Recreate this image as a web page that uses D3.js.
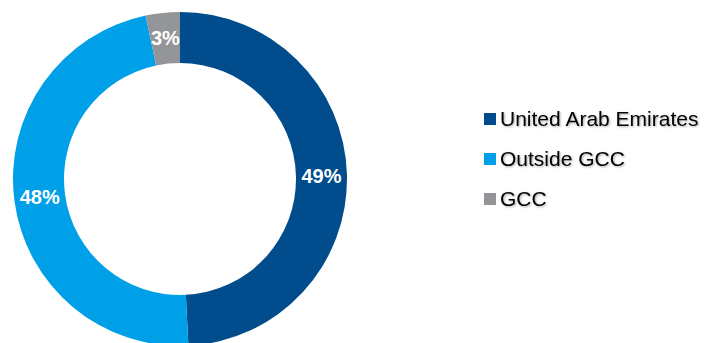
<!DOCTYPE html>
<html>
<head>
<meta charset="utf-8">
<script src="https://cdn.jsdelivr.net/npm/d3@7"></script>
<style>
html,body{margin:0;padding:0;background:#fff;}
svg{display:block;}
</style>
</head>
<body>
<svg id="chart" width="705" height="343"></svg>
<script>
const categories = ["United Arab Emirates", "Outside GCC", "GCC"];
const values = [49.2, 47.5, 3.3];
const labels = ["49%", "48%", "3%"];
const colors = ["#004C8C", "#00A0E8", "#939598"];

const svg = d3.select("#chart");
const defs = svg.append("defs");
const f = defs.append("filter").attr("id","shadow").attr("x","-10%").attr("y","-20%").attr("width","130%").attr("height","150%");
f.append("feDropShadow").attr("dx",1).attr("dy",1).attr("stdDeviation",0.8).attr("flood-color","#000").attr("flood-opacity",0.35);

const cx = 180, cy = 179, outerR = 167, innerR = 116;
const data = categories.map((c,i)=>({cat:c, value:values[i], label:labels[i], color:colors[i]}));

const pie = d3.pie().sort(null).value(d=>d.value);
const arc = d3.arc().innerRadius(innerR).outerRadius(outerR);
const arcs = pie(data);

const g = svg.append("g").attr("transform",`translate(${cx},${cy})`);
g.selectAll("path").data(arcs).join("path")
  .attr("d", arc)
  .attr("fill", d=>d.data.color);

g.selectAll("text").data(arcs).join("text")
  .attr("transform", d=>`translate(${arc.centroid(d)})`)
  .attr("text-anchor","middle")
  .attr("dy","0.36em")
  .attr("fill","#fff")
  .attr("font-family","Liberation Sans, Arial, sans-serif")
  .attr("font-weight","bold")
  .attr("font-size","20px")
  .text(d=>d.data.label);

const legend = svg.append("g").attr("transform","translate(484,126)");
const items = legend.selectAll("g").data(data).join("g")
  .attr("transform",(d,i)=>`translate(0,${i*40})`);
items.append("rect").attr("x",0).attr("y",-13).attr("width",12).attr("height",12).attr("fill",d=>d.color);
items.append("text").attr("x",16).attr("y",0)
  .attr("font-family","Liberation Sans, Arial, sans-serif")
  .attr("font-size","21px")
  .attr("fill","#000")
  .attr("filter","url(#shadow)")
  .text(d=>d.cat);
</script>
</body>
</html>
